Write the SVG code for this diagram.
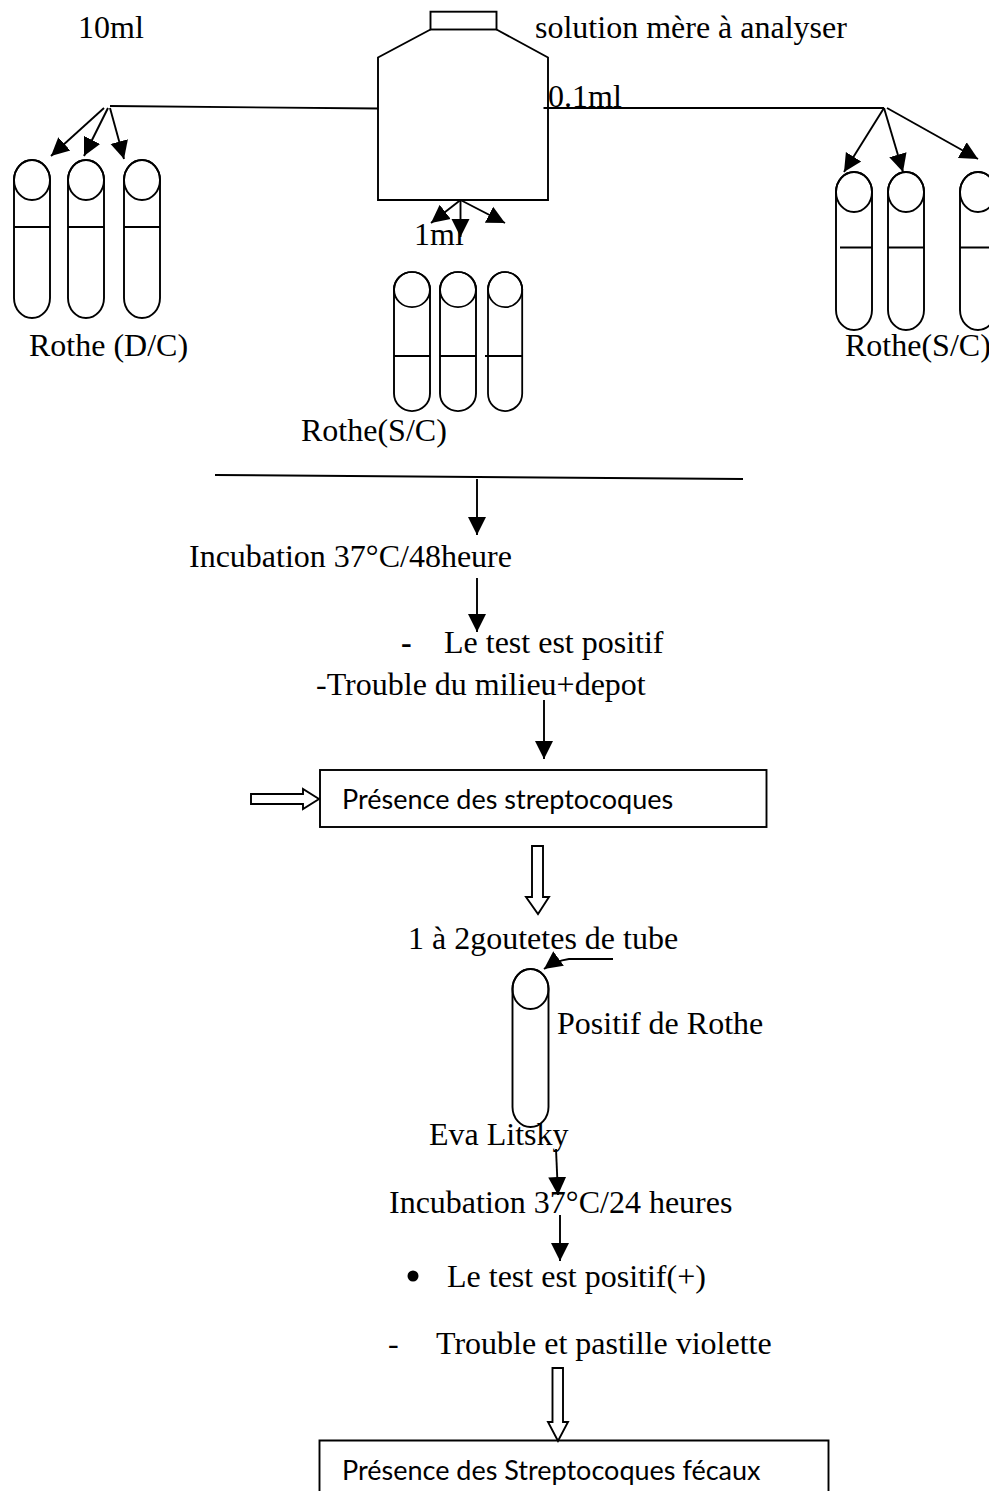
<svg xmlns="http://www.w3.org/2000/svg" width="989" height="1492" viewBox="0 0 989 1492">
<style>
text{font-family:"Liberation Serif","Times New Roman",serif;font-size:32px;fill:#000}
.box{font-family:Lato,"Noto Sans",sans-serif;font-size:27px}
.s{fill:none;stroke:#000;stroke-width:1.9}
.w{fill:#fff;stroke:#000;stroke-width:1.9}
.c{fill:none;stroke:#000;stroke-width:1.9;marker-end:url(#a)}
</style>
<defs>
<marker id="a" markerUnits="userSpaceOnUse" markerWidth="19" markerHeight="20" refX="18" refY="10" orient="auto"><path d="M0 1L18 10L0 19Z" fill="#000"/></marker>
<g id="tube"><rect class="s" x="0" y="0" width="36" height="158" rx="18" ry="20"/><ellipse class="s" cx="18" cy="20" rx="18" ry="20"/></g>
</defs>
<rect width="989" height="1492" fill="#fff"/>
<g id="bottle">
<rect class="s" x="430.500" y="11.700" width="66" height="17.800"/>
<path class="s" d="M430.500 29.500L378 57.500V200H548V57.500L496.500 29.500"/>
</g>
<g id="tubes-left">
<use href="#tube" x="14" y="160"/><use href="#tube" x="68" y="160"/><use href="#tube" x="124" y="160"/>
<path class="s" d="M14 227H50M68 227H104M124 227H160"/>
</g>
<g id="tubes-middle">
<use href="#tube" transform="translate(394 272) scale(1 .88)"/><use href="#tube" transform="translate(440 272) scale(1 .88)"/><use href="#tube" transform="translate(488 272) scale(.95 .88)"/>
<path class="s" d="M394 356H430M440 356H476M485 356H522"/>
</g>
<g id="tubes-right">
<use href="#tube" x="836" y="172"/><use href="#tube" x="888" y="172"/><use href="#tube" x="960" y="172"/>
<path class="s" d="M840 247.500H872M888 247.500H924M960 247.500H989"/>
</g>
<g id="tube-rothe"><use href="#tube" x="512.500" y="969"/></g>
<g id="connectors">
<path class="s" d="M110 106L378 108.500"/>
<path class="s" d="M543.500 108H884"/>
<path class="c" d="M104 108L51 156"/><path class="c" d="M108 108L84 156"/><path class="c" d="M110 108L124 159"/>
<path class="c" d="M460.500 200L431 223"/><path class="c" d="M460.500 200V237"/><path class="c" d="M460.500 200L505 223"/>
<path class="c" d="M884 108L844 172"/><path class="c" d="M884 108L903 172"/><path class="c" d="M887 108L978 159"/>
<path class="s" d="M215 475L743 479"/>
<path class="c" d="M477 479V535"/><path class="c" d="M477 578V632"/><path class="c" d="M544 700V759"/>
<path class="c" d="M613 959H569Q555 961 544 969"/>
<path class="c" d="M556 1149L558 1195"/><path class="c" d="M560 1215V1261"/>
<path class="w" d="M251 794H303V789L319 799L303 809V804H251Z"/>
<path class="w" d="M532 846H543V897H549L538 914L526 897H532Z"/>
<path class="w" d="M552.500 1368H563V1422H568L558 1441L548 1422H552.500Z"/>
</g>
<g id="box-streptocoques"><rect class="s" x="320" y="770" width="446.500" height="57"/><text class="box" x="342" y="809">Présence des streptocoques</text></g>
<g id="box-fecaux"><path class="s" d="M319.500 1491V1440.500H828.500V1491"/><text class="box" x="342" y="1480">Présence des Streptocoques fécaux</text></g>
<g id="labels">
<text x="78" y="38">10ml</text>
<text x="535" y="38">solution mère à analyser</text>
<text x="548" y="107">0.1ml</text>
<text x="414" y="245">1ml</text>
<text x="29" y="356">Rothe (D/C)</text>
<text x="301" y="441">Rothe(S/C)</text>
<text x="845" y="356">Rothe(S/C)</text>
<text x="189" y="567">Incubation 37°C/48heure</text>
<text x="401" y="653" font-weight="bold">-</text>
<text x="444" y="653">Le test est positif</text>
<text x="316" y="695">-Trouble du milieu+depot</text>
<text x="408" y="949">1 à 2goutetes de tube</text>
<text x="557" y="1034">Positif de Rothe</text>
<text x="429" y="1145">Eva Litsky</text>
<text x="389" y="1213">Incubation 37°C/24 heures</text>
<circle cx="413" cy="1276" r="5.500"/>
<text x="447" y="1287">Le test est positif(+)</text>
<text x="388" y="1354">-</text>
<text x="436" y="1354">Trouble et pastille violette</text>
</g>
</svg>
